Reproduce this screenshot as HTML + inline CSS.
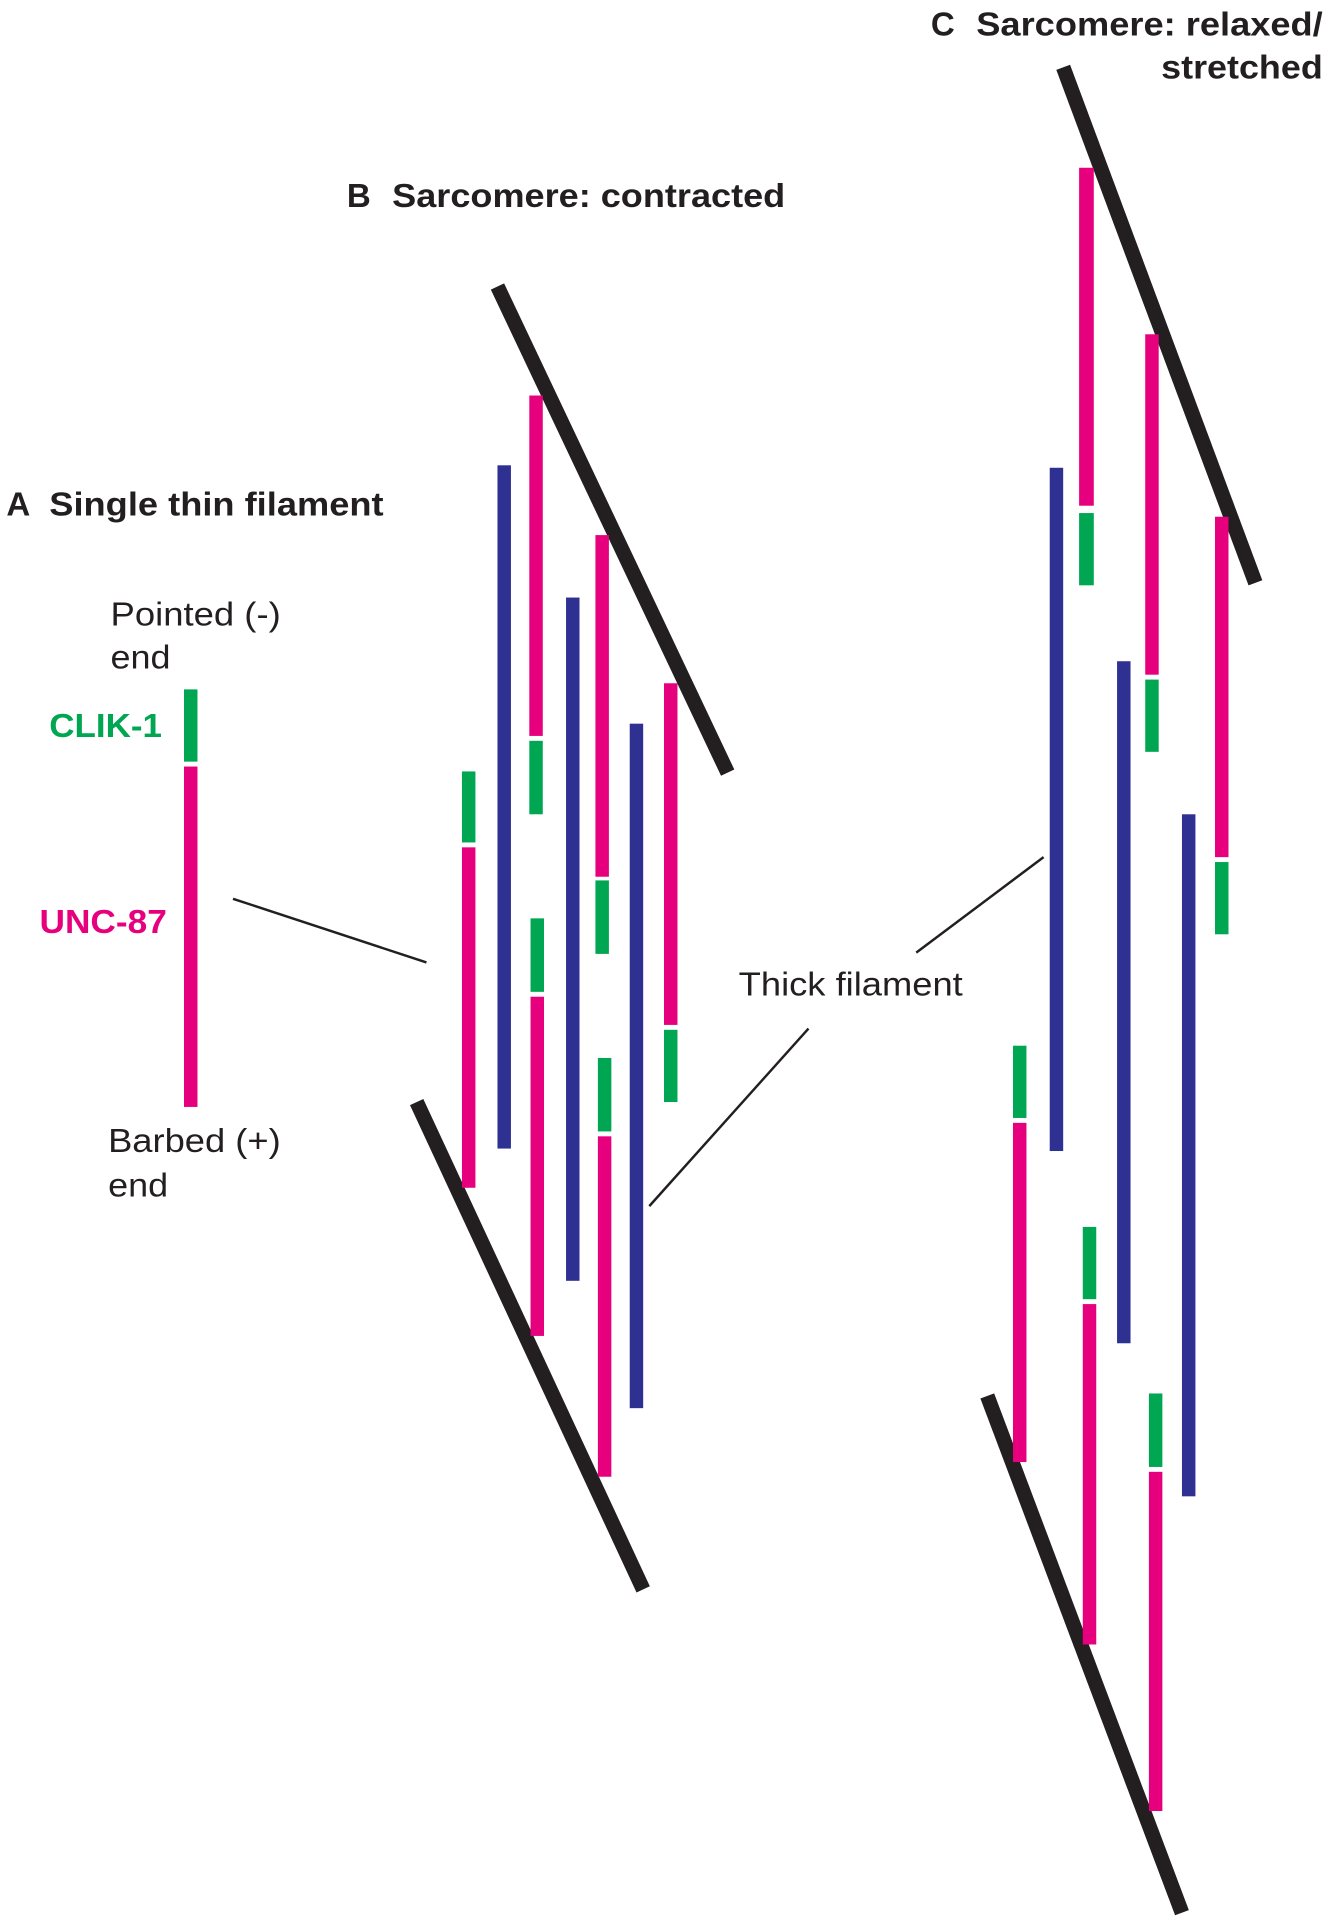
<!DOCTYPE html>
<html><head><meta charset="utf-8"><style>html,body{margin:0;padding:0;background:#fff}svg{display:block}</style></head>
<body>
<svg width="1328" height="1920" viewBox="0 0 1084 1568" xmlns="http://www.w3.org/2000/svg" font-family="Liberation Sans, Arial, sans-serif">
<rect width="1084" height="1568" fill="#fff"/>
<g fill="#231f20" font-weight="bold" font-size="27" lengthAdjust="spacingAndGlyphs">
<text x="5" y="421">A</text>
<text x="40" y="421" textLength="273" lengthAdjust="spacingAndGlyphs">Single thin filament</text>
<text x="283" y="169">B</text>
<text x="320" y="169" textLength="321" lengthAdjust="spacingAndGlyphs">Sarcomere: contracted</text>
<text x="760" y="29">C</text>
<text x="797" y="29" textLength="283" lengthAdjust="spacingAndGlyphs">Sarcomere: relaxed/</text>
<text x="948" y="64" textLength="132" lengthAdjust="spacingAndGlyphs">stretched</text>
</g>
<g fill="#231f20" font-size="27">
<text x="90" y="511" textLength="139" lengthAdjust="spacingAndGlyphs">Pointed (-)</text>
<text x="90" y="546" textLength="49" lengthAdjust="spacingAndGlyphs">end</text>
<text x="88" y="941" textLength="141" lengthAdjust="spacingAndGlyphs">Barbed (+)</text>
<text x="88" y="977" textLength="49" lengthAdjust="spacingAndGlyphs">end</text>
<text x="603" y="813" textLength="183" lengthAdjust="spacingAndGlyphs">Thick filament</text>
</g>
<text x="40" y="602" fill="#00a651" font-weight="bold" font-size="27" textLength="92" lengthAdjust="spacingAndGlyphs">CLIK-1</text>
<text x="32" y="762" fill="#e6007e" font-weight="bold" font-size="27" textLength="104" lengthAdjust="spacingAndGlyphs">UNC-87</text>
<g stroke="#231f20" stroke-width="2">
<line x1="190" y1="734" x2="348" y2="786"/>
<line x1="530" y1="985" x2="660" y2="840"/>
<line x1="748" y1="778" x2="852" y2="700"/>
</g>
<g stroke="#231f20" stroke-width="12">
<line x1="406" y1="234" x2="594" y2="631"/>
<line x1="340" y1="900" x2="525" y2="1298"/>
<line x1="868" y1="55" x2="1025" y2="476"/>
<line x1="806" y1="1140" x2="965" y2="1562"/>
</g>
<rect x="150" y="563" width="11" height="59" fill="#00a651"/>
<rect x="150" y="626" width="11" height="278" fill="#e6007e"/>
<g fill="#2e3192">
<rect x="406" y="380" width="11" height="558"/>
<rect x="462" y="488" width="11" height="558"/>
<rect x="514" y="591" width="11" height="559"/>
<rect x="857" y="382" width="11" height="558"/>
<rect x="912" y="540" width="11" height="557"/>
<rect x="965" y="665" width="11" height="557"/>
</g>
<g fill="#e6007e">
<rect x="377" y="692" width="11" height="278"/>
<rect x="432" y="323" width="11" height="278"/>
<rect x="433" y="814" width="11" height="277"/>
<rect x="486" y="437" width="11" height="279"/>
<rect x="488" y="928" width="11" height="278"/>
<rect x="542" y="558" width="11" height="279"/>
<rect x="881" y="137" width="12" height="276"/>
<rect x="935" y="273" width="11" height="278"/>
<rect x="992" y="422" width="11" height="278"/>
<rect x="827" y="917" width="11" height="277"/>
<rect x="884" y="1065" width="11" height="278"/>
<rect x="938" y="1202" width="11" height="277"/>
</g>
<g fill="#00a651">
<rect x="377" y="630" width="11" height="58"/>
<rect x="432" y="605" width="11" height="60"/>
<rect x="433" y="750" width="11" height="60"/>
<rect x="486" y="719" width="11" height="60"/>
<rect x="488" y="864" width="11" height="60"/>
<rect x="542" y="841" width="11" height="59"/>
<rect x="881" y="419" width="12" height="59"/>
<rect x="935" y="555" width="11" height="59"/>
<rect x="992" y="704" width="11" height="59"/>
<rect x="827" y="854" width="11" height="59"/>
<rect x="884" y="1002" width="11" height="59"/>
<rect x="938" y="1138" width="11" height="60"/>
</g>
</svg>
</body></html>
